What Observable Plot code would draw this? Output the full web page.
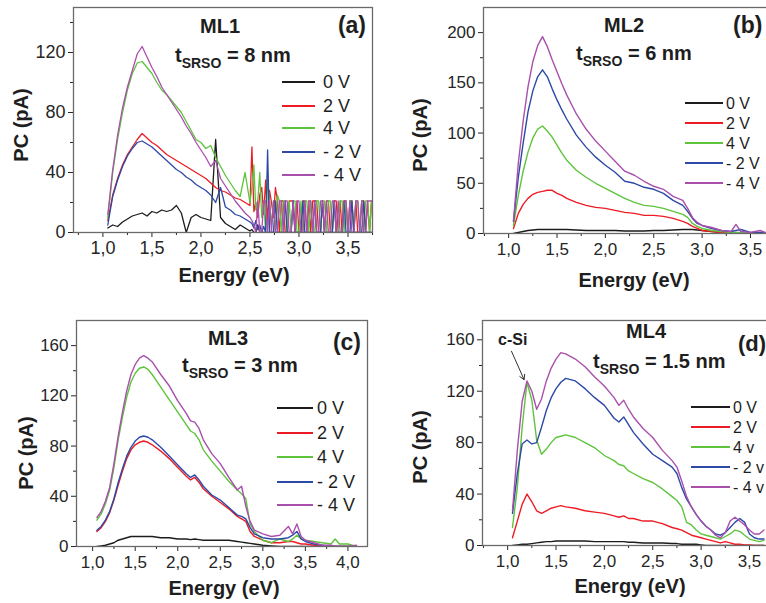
<!DOCTYPE html>
<html><head><meta charset="utf-8">
<script src="https://cdn.jsdelivr.net/npm/d3@7"></script>
<script src="https://cdn.jsdelivr.net/npm/@observablehq/plot@0.6"></script>
<style>
html,body{margin:0;padding:0;background:#fff;overflow:hidden}
#root{position:relative;width:766px;height:603px;overflow:hidden;background:#fff}
#root svg{position:absolute}
</style></head><body><div id="root"></div>
<script>
// ---------- shared ----------
const seriesNames = ["0 V", "2 V", "4 V", "- 2 V", "- 4 V"];
const seriesNamesD = ["0 V", "2 V", "4 v", "- 2 v", "- 4 v"];
const colors = ["#1c1c1c", "#ed1c24", "#5ec43c", "#2d49a6", "#a94fad"];

// ---------- panel (a) ML1 ----------
const aE  = [1.05,1.1,1.15,1.2,1.25,1.3,1.35,1.4,1.45,1.5,1.55,1.6,1.65,1.7,1.75,1.8,1.85,1.9,1.95,2.0,2.05,2.1,2.15,2.2,2.25,2.3,2.35,2.4,2.45,2.5];
const a0  = [3,5,4,7,9,11,12,13,11,14,13,15,14,15,18,13,0,10,12,10,9,8,62,10,6,4,2,5,3,1];
const a2  = [8,25,36,45,52,57,62,66,63,60,58,55,52,50,48,46,44,42,40,38,36,33,30,28,27,25,23,22,20,18];
const a4  = [10,40,62,80,95,106,113,114,110,106,100,95,92,88,84,80,74,68,62,60,56,58,50,44,38,33,28,24,40,20];
const am2 = [5,24,35,44,51,56,60,61,59,57,54,51,48,45,42,40,37,35,32,30,28,25,20,30,17,15,12,11,9,7];
const am4 = [12,42,65,83,97,108,119,124,117,110,104,97,92,87,82,77,71,66,60,55,50,44,48,36,31,26,21,17,13,10];
const aTailE = [2.52,2.54,2.56,2.58,2.60,2.62,2.64,2.66,2.68,2.70,
                2.72,2.74,2.76,2.78,2.80,2.82,2.84,2.86,2.88,2.90,
                2.92,2.94,2.96,2.98,3.00,3.02,3.04,3.06,3.08,3.10,
                3.12,3.14,3.16,3.18,3.20,3.22,3.24,3.26,3.28,3.30,
                3.32,3.34,3.36,3.38,3.40,3.42,3.44,3.46,3.48,3.50,
                3.52,3.54,3.56,3.58,3.60,3.62,3.64,3.66,3.68,3.70,
                3.72,3.74];
const a0t  = [2,0,0,5,0,0,0,0,0,0, 0,0,0,0,0,0,0,0,0,0, 0,0,0,0,0,0,0,0,0,0, 0,0,0,0,0,0,0,0,0,0, 0,0,0,0,0,0,0,0,0,0, 0,0,0,0,0,0,0,0,0,0, 0,0];
const a2t  = [57,14,20,10,25,30,12,35,8,28, 20,10,30,21,0,21,21,0,0,21, 21,21,0,21,0,0,21,21,0,21, 0,21,21,21,0,0,21,0,21,21, 0,0,21,21,0,21,0,21,21,0, 21,21,0,21,0,0,21,21,0,21, 0,21];
const a4t  = [30,45,15,21,40,10,21,0,35,21, 5,21,0,25,21,0,21,21,0,21, 0,21,21,0,0,21,0,21,21,0, 21,0,0,21,21,0,21,21,0,21, 21,0,21,0,0,21,21,0,21,0, 21,21,0,21,21,0,21,0,21,21, 0,21];
const am2t = [6,3,8,2,5,0,4,0,55,0, 0,0,21,0,0,0,0,21,0,0, 0,21,0,0,0,0,21,0,0,0, 0,0,21,0,0,0,21,0,0,0, 0,0,21,0,0,0,0,21,0,0, 0,21,0,0,0,0,0,21,0,0, 0,0];
const am4t = [8,5,0,21,0,0,21,21,0,21, 0,21,0,0,21,21,0,21,21,0, 0,21,0,21,21,0,0,21,0,21, 21,0,21,0,0,21,21,0,21,0, 0,21,21,0,21,0,0,21,21,0, 21,0,0,21,21,0,21,0,0,21, 21,21];

// ---------- panel (b) ML2 ----------
const bE  = [1.05,1.1,1.15,1.2,1.25,1.3,1.35,1.4,1.45,1.5,1.55,1.6,1.7,1.8,1.9,2.0,2.1,2.2,2.3,2.4,2.5,2.6,2.7,2.8,2.85,2.9,2.95,3.0,3.1,3.2,3.3,3.35,3.4,3.5,3.6,3.65];
const b0  = [0,1,2,3,3.5,4,4,4,4,4,4,4,3.5,3,3,3,3,2.5,2.5,2.5,3,3,3.5,4,4,4,3.5,3,2,1,0.5,0.5,0,0,0,0];
const b2  = [5,20,29,35,39,41,42,43,43,40,38,35,31,28,26,25,23,21,20,18,18,17,15,12,10,7,5,3,2,1,1,0,0,0,0,0];
const b4  = [8,38,62,81,95,104,107,102,96,88,80,73,63,56,50,45,40,35,31,28,27,25,22,19,16,10,7,5,3,2,1,1,1,0,0,0];
const bm2 = [12,56,90,121,142,156,163,156,144,133,123,114,98,86,76,68,61,52,50,46,44,40,33,28,22,15,10,8,5,3,2,3,4,1,1,1];
const bm4 = [13,70,112,146,171,187,196,186,173,161,149,138,119,104,92,82,72,62,58,52,47,44,37,33,25,16,11,8,6,3,2,9,2,1,3,1];

// ---------- panel (c) ML3 ----------
const cE  = [1.05,1.1,1.15,1.2,1.25,1.3,1.35,1.4,1.45,1.5,1.55,1.6,1.65,1.7,1.8,1.9,2.0,2.1,2.15,2.2,2.25,2.3,2.4,2.5,2.6,2.7,2.75,2.8,2.85,2.9,3.0,3.1,3.2,3.3,3.35,3.4,3.45,3.5,3.6,3.7,3.8,3.85,3.9,4.0,4.1];
const c0  = [0,0.5,1,2,3,5,6,7,8,8,8,8,8,8,7,7,6,6,5.5,6,5.5,5,5,5,5,4,3.5,3,2.5,2,1,0.5,0,0,0,0,0,0,0,0,0,0,0,0,0];
const c2  = [12,15,20,27,37,49,60,70,77,81,83,84,83,81,76,70,63,56,53,55,51,46,40,35,30,24,22,20,12,8,5,3,3,4,4,3,2,2,1,0,0,0,0,0,0];
const c4  = [21,26,34,45,63,85,103,119,131,138,142,143,141,137,127,117,107,97,92,90,85,77,68,60,52,45,42,38,18,12,5,3,6,4,6,9,6,5,4,3,2,6,2,2,0];
const cm2 = [13,16,21,28,38,51,62,72,79,84,87,88,87,85,79,72,65,58,55,57,53,48,41,37,31,25,24,22,15,10,7,6,6,7,9,12,6,4,2,1,0,0,0,0,0];
const cm4 = [23,28,36,47,66,88,107,124,137,145,150,152,150,147,137,128,116,106,100,99,94,85,74,66,55,45,48,32,20,13,10,8,9,16,10,18,8,5,3,1,1,0,0,0,1];

// ---------- panel (d) ML4 ----------
const dE  = [1.05,1.1,1.15,1.2,1.25,1.3,1.35,1.4,1.45,1.5,1.55,1.6,1.7,1.8,1.9,2.0,2.1,2.15,2.2,2.25,2.3,2.4,2.5,2.6,2.7,2.75,2.8,2.85,2.9,2.95,3.0,3.05,3.1,3.15,3.2,3.25,3.3,3.35,3.4,3.45,3.5,3.55,3.6,3.65];
const d0  = [0,0.5,1,1,1.5,2,2.5,3,3,3.5,3.5,3.5,3.5,3.5,3,3,3,3,3,2.5,2.5,2,2,2,1.5,1.5,1,1,1,1,0.5,0,0,0,0,0,0,0,0,0,0,0,0,0];
const d2  = [6,19,32,40,34,27,25,27,29,30,31,30,29,27,26,25,23,22,23,21,21,19,19,17,14,13,12,10,8,7,6,5,4,3,2,3,2,1,1,0.5,0.5,0,0,0];
const d4  = [14,45,92,127,113,82,71,75,80,84,85,86,84,80,76,70,66,63,62,58,56,52,49,44,38,35,30,18,16,12,9,8,7,6,5,7,9,12,11,8,5,4,3,4];
const dm2 = [25,56,79,82,79,80,92,105,115,122,127,130,128,122,115,109,99,96,100,94,88,79,71,66,61,56,45,36,30,24,19,15,12,9,8,10,14,18,21,18,9,6,5,5];
const dm4 = [27,74,112,128,120,106,114,128,138,145,150,149,145,139,131,124,115,109,113,106,100,91,84,74,66,61,50,38,30,24,19,15,12,8,6,10,19,22,19,16,12,9,9,12];
const cSiArrow = {x1: 1.04, y1: 151, x2: 1.17, y2: 129};

// ---------- helpers ----------
const FONT = "'Liberation Sans', Arial, Helvetica, sans-serif";
const comma = d => d.toFixed(1).replace(".", ",");

function rows(E, v) { return E.map((e, i) => ({E: e, v: v[i]})); }

function panel(cfg) {
  const marks = [
    Plot.axisX({ticks: cfg.xMinor, tickSize: 3, tickFormat: () => "", label: null}),
    Plot.axisX({ticks: cfg.xTicks, tickSize: 5, tickPadding: 4, tickFormat: comma, label: null}),
    Plot.axisY({ticks: cfg.yMinor, tickSize: 3, tickFormat: () => "", label: null}),
    Plot.axisY({ticks: cfg.yTicks, tickSize: 5, tickPadding: 3, label: null})
  ];
  cfg.series.forEach((s, i) => {
    marks.push(Plot.line(s, {x: "E", y: "v", stroke: colors[i], strokeWidth: cfg.sw, clip: true}));
  });
  if (cfg.extra) marks.push(...cfg.extra);
  marks.push(Plot.frame({stroke: "#6a6a6a", strokeWidth: 1.3}));
  const svg = Plot.plot({
    width: cfg.width, height: cfg.height,
    marginLeft: cfg.m[3], marginTop: cfg.m[0], marginRight: cfg.m[1], marginBottom: cfg.m[2],
    x: {domain: cfg.xDomain}, y: {domain: cfg.yDomain},
    style: {fontFamily: FONT, fontSize: cfg.fs + "px", color: "#262626", background: "transparent", maxWidth: "none"},
    marks
  });
  svg.style.left = cfg.left + "px";
  svg.style.top = cfg.top + "px";
  svg.style.position = "absolute";
  svg.style.overflow = "visible";
  document.getElementById("root").appendChild(svg);
  return d3.select(svg);
}

function txt(g, x, y, s, size, opts = {}) {
  return g.append("text").attr("x", x).attr("y", y)
    .attr("font-family", FONT).attr("font-size", size)
    .attr("font-weight", opts.bold ? "bold" : "normal")
    .attr("text-anchor", opts.anchor || "start").attr("fill", "#1e1e1e").text(s);
}
function ylabel(g, x, y) {
  g.append("text").attr("transform", `translate(${x},${y}) rotate(-90)`)
    .attr("font-family", FONT).attr("font-size", 20).attr("font-weight", "bold")
    .attr("text-anchor", "middle").attr("fill", "#1e1e1e").text("PC (pA)");
}
function tsrso(g, x, y, val, size, sub) {
  const t = g.append("text").attr("x", x).attr("y", y).attr("font-family", FONT)
    .attr("text-anchor", "start")
    .attr("font-weight", "bold").attr("font-size", size).attr("fill", "#1e1e1e");
  t.append("tspan").text("t");
  t.append("tspan").attr("font-size", sub).attr("dy", 6).text("SRSO");
  t.append("tspan").attr("dy", -6).text(" = " + val);
}
function legend(g, x1, x2, tx, ys, labels, size) {
  ys.forEach((y, i) => {
    g.append("line").attr("x1", x1).attr("x2", x2).attr("y1", y).attr("y2", y)
      .attr("stroke", colors[i]).attr("stroke-width", 2);
    txt(g, tx, y + size * 0.36, labels[i], size);
  });
}

// ---------- panel (a) ----------
const gA = panel({
  left: 0, top: 0, width: 383, height: 300, m: [7, 11, 68, 73],
  xDomain: [0.7, 3.75], yDomain: [0, 150],
  xTicks: [1, 1.5, 2, 2.5, 3, 3.5], xMinor: [0.75, 1.25, 1.75, 2.25, 2.75, 3.25, 3.75],
  yTicks: [0, 40, 80, 120], yMinor: [20, 60, 100, 140], fs: 18, sw: 1.3,
  series: [
    rows(aE.concat(aTailE), a0.concat(a0t)),
    rows(aE.concat(aTailE), a2.concat(a2t)),
    rows(aE.concat(aTailE), a4.concat(a4t)),
    rows(aE.concat(aTailE), am2.concat(am2t)),
    rows(aE.concat(aTailE), am4.concat(am4t))
  ]
});
txt(gA, 220, 33, "ML1", 20, {bold: true, anchor: "middle"});
txt(gA, 366, 33, "(a)", 23, {bold: true, anchor: "end"});
tsrso(gA, 175, 62, "8 nm", 20, 14);
legend(gA, 282, 315, 323, [82, 106, 128, 152, 175], seriesNames, 18);
ylabel(gA, 28, 125);
txt(gA, 234, 282, "Energy (eV)", 20, {bold: true, anchor: "middle"});

// ---------- panel (b) ----------
const gB = panel({
  left: 383, top: 0, width: 406, height: 300, m: [7, 10, 67, 100],
  xDomain: [0.74, 3.8], yDomain: [0, 225],
  xTicks: [1, 1.5, 2, 2.5, 3, 3.5], xMinor: [0.75, 1.25, 1.75, 2.25, 2.75, 3.25, 3.75],
  yTicks: [0, 50, 100, 150, 200], yMinor: [25, 75, 125, 175], fs: 17, sw: 1.4,
  series: [rows(bE, b0), rows(bE, b2), rows(bE, b4), rows(bE, bm2), rows(bE, bm4)]
});
txt(gB, 241, 32, "ML2", 20, {bold: true, anchor: "middle"});
txt(gB, 350, 33, "(b)", 23, {bold: true});
tsrso(gB, 193, 60, "6 nm", 20, 14);
legend(gB, 302, 340, 343, [103, 123, 143, 163, 183], seriesNames, 16);
ylabel(gB, 44, 135);
txt(gB, 251, 287, "Energy (eV)", 20, {bold: true, anchor: "middle"});

// ---------- panel (c) ----------
const gC = panel({
  left: 0, top: 300, width: 383, height: 303, m: [20, 16, 57, 76],
  xDomain: [0.81, 4.23], yDomain: [0, 180],
  xTicks: [1, 1.5, 2, 2.5, 3, 3.5, 4], xMinor: [1.25, 1.75, 2.25, 2.75, 3.25, 3.75],
  yTicks: [0, 40, 80, 120, 160], yMinor: [20, 60, 100, 140], fs: 17, sw: 1.4,
  series: [rows(cE, c0), rows(cE, c2), rows(cE, c4), rows(cE, cm2), rows(cE, cm4)]
});
txt(gC, 228, 45, "ML3", 20, {bold: true, anchor: "middle"});
txt(gC, 361, 50, "(c)", 23, {bold: true, anchor: "end"});
tsrso(gC, 182, 72, "3 nm", 20, 14);
legend(gC, 277, 313, 317, [108, 133, 157, 182, 205], seriesNames, 18);
ylabel(gC, 33, 153);
txt(gC, 224, 295, "Energy (eV)", 20, {bold: true, anchor: "middle"});

// ---------- panel (d) ----------
const gD = panel({
  left: 383, top: 300, width: 406, height: 303, m: [20, 11, 58, 99],
  xDomain: [0.74, 3.8], yDomain: [0, 175],
  xTicks: [1, 1.5, 2, 2.5, 3, 3.5], xMinor: [0.75, 1.25, 1.75, 2.25, 2.75, 3.25, 3.75],
  yTicks: [0, 40, 80, 120, 160], yMinor: [20, 60, 100, 140], fs: 17, sw: 1.4,
  series: [rows(dE, d0), rows(dE, d2), rows(dE, d4), rows(dE, dm2), rows(dE, dm4)],
  extra: [Plot.arrow([cSiArrow], {x1: "x1", y1: "y1", x2: "x2", y2: "y2", stroke: "#333", strokeWidth: 1, headLength: 8})]
});
txt(gD, 263, 38, "ML4", 20, {bold: true, anchor: "middle"});
txt(gD, 355, 51, "(d)", 22, {bold: true});
tsrso(gD, 210, 68, "1.5 nm", 20, 14);
txt(gD, 115, 45, "c-Si", 16, {bold: true});
legend(gD, 308, 347, 350, [107, 127, 147, 167, 187], seriesNamesD, 16);
ylabel(gD, 44, 147);
txt(gD, 247, 293, "Energy (eV)", 20, {bold: true, anchor: "middle"});
</script></body></html>
